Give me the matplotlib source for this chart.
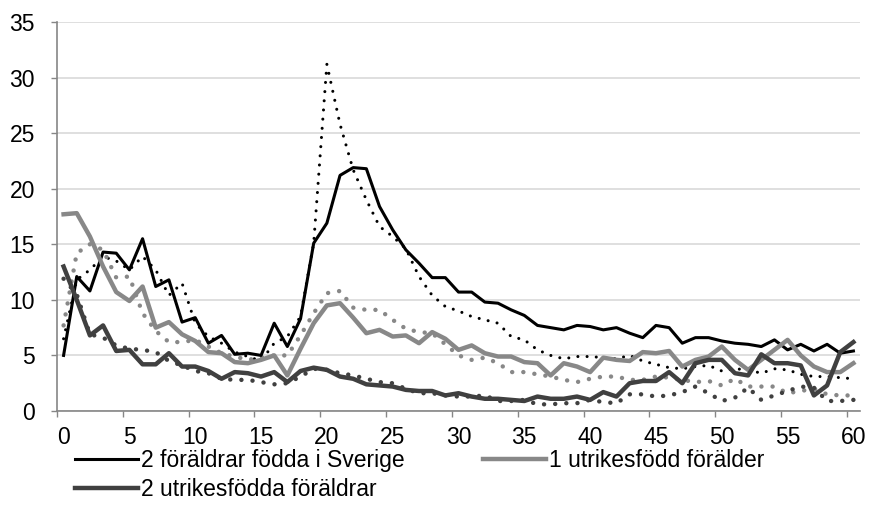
import numpy as np
import matplotlib.pyplot as plt

plt.rcParams['font.family'] = ['Liberation Sans', 'DejaVu Sans']

# age 0..60, one value per category
ages = np.arange(61)

# solid lines
sverige = [5.0, 12.1, 10.8, 14.3, 14.2, 12.7, 15.5, 11.2, 11.8, 8.0,
           8.4, 6.1, 6.8, 5.1, 5.2, 5.0, 7.9, 5.8, 8.3, 15.1,
           16.9, 21.2, 21.9, 21.8, 18.4, 16.3, 14.5, 13.3, 12.0, 12.0,
           10.7, 10.7, 9.8, 9.7, 9.1, 8.6, 7.7, 7.5, 7.3, 7.7,
           7.6, 7.3, 7.5, 7.0, 6.6, 7.7, 7.5, 6.1, 6.6, 6.6,
           6.3, 6.1, 6.0, 5.8, 6.4, 5.5, 6.0, 5.4, 6.0, 5.2, 5.4]
en_utr = [17.7, 17.8, 15.7, 13.0, 10.7, 9.9, 11.2, 7.5, 8.0, 6.9,
          6.3, 5.3, 5.2, 4.4, 4.3, 4.6, 5.0, 3.2, 5.6, 7.9,
          9.5, 9.7, 8.4, 7.0, 7.3, 6.7, 6.8, 6.1, 7.1, 6.5,
          5.5, 5.9, 5.2, 4.9, 4.9, 4.4, 4.3, 3.2, 4.3, 4.0,
          3.5, 4.8, 4.6, 4.5, 5.3, 5.2, 5.4, 4.0, 4.6, 4.9,
          5.8, 4.6, 3.7, 4.6, 5.5, 6.4, 5.0, 4.0, 3.5, 3.5, 4.3]
tva_utr = [13.0, 10.0, 6.8, 7.7, 5.4, 5.5, 4.2, 4.2, 5.2, 4.0,
           4.0, 3.6, 2.9, 3.5, 3.4, 3.1, 3.5, 2.6, 3.6, 3.9,
           3.7, 3.1, 2.9, 2.4, 2.3, 2.2, 1.9, 1.8, 1.8, 1.4,
           1.6, 1.3, 1.1, 1.1, 1.0, 0.9, 1.3, 1.1, 1.1, 1.3,
           1.0, 1.7, 1.3, 2.5, 2.7, 2.7, 3.5, 2.5, 4.3, 4.6,
           4.6, 3.4, 3.2, 5.1, 4.3, 4.3, 4.1, 1.4, 2.3, 5.3, 6.2]

# dotted lines
sverige_d = [6.5, 11.8, 12.7, 13.9, 13.5, 12.7, 13.9, 12.7, 10.4, 11.5,
             7.9, 6.7, 6.1, 5.3, 4.9, 4.5, 6.1, 6.7, 8.5, 15.1,
             31.2, 25.8, 21.7, 19.0, 16.6, 15.7, 14.6, 12.1, 10.4, 9.4,
             9.0, 8.5, 8.2, 7.9, 6.7, 6.4, 5.5, 5.0, 4.7, 4.9,
             4.9, 4.8, 4.7, 5.0, 4.5, 4.2, 3.9, 3.8, 4.0, 4.1,
             3.6, 3.8, 3.7, 3.4, 3.8, 3.7, 3.3, 3.1, 3.1, 3.0, 2.9]
en_utr_d = [7.7, 14.2, 15.0, 14.5, 12.0, 12.1, 8.8, 7.2, 6.2, 6.2,
            6.4, 5.8, 5.2, 4.9, 4.6, 4.8, 5.0, 5.0, 6.8, 8.8,
            10.6, 10.8, 9.3, 9.1, 9.1, 8.2, 7.4, 7.1, 7.0, 6.0,
            5.0, 4.6, 4.8, 4.3, 3.5, 3.5, 3.3, 3.1, 2.8, 2.6,
            2.9, 3.1, 3.1, 2.8, 2.8, 3.1, 3.0, 2.8, 2.6, 2.7,
            2.3, 2.9, 2.2, 2.2, 2.2, 1.6, 1.8, 2.0, 1.5, 1.4, 1.4]
tva_utr_d = [11.9, 10.5, 6.9, 6.6, 5.9, 5.6, 5.5, 5.3, 4.5, 4.1,
             3.6, 3.4, 2.9, 2.8, 2.8, 2.6, 2.4, 2.5, 3.1, 3.8,
             3.7, 3.4, 3.2, 2.9, 2.6, 2.5, 2.0, 1.6, 1.6, 1.4,
             1.3, 1.3, 1.4, 0.9, 0.9, 1.0, 0.6, 0.6, 0.7, 0.7,
             1.0, 0.8, 0.7, 1.5, 1.5, 1.3, 1.4, 1.7, 2.2, 1.6,
             0.9, 1.2, 2.1, 1.0, 1.4, 1.8, 2.2, 2.1, 0.9, 0.9, 1.0]

labels = ['2 föräldrar födda i Sverige', '1 utrikesfödd förälder',
          '2 utrikesfödda föräldrar']

black = '#000000'
grey = '#888888'
dark = '#404040'
fs = 16.5

fig = plt.figure(figsize=(8.81, 5.21), dpi=100)
ax = fig.add_axes([57 / 881, 1 - 411 / 521, (860 - 57) / 881, (411 - 22) / 521])

x = ages + 0.5

# dotted series
ax.plot(x, sverige_d, color=black, lw=2.2, linestyle=(0, (0.01, 3.0)),
        dash_capstyle='round', zorder=3)
ax.plot(x, en_utr_d, color=grey, lw=3.2, linestyle=(0, (0.01, 2.5)),
        dash_capstyle='round', zorder=3)
ax.plot(x, tva_utr_d, color=dark, lw=3.2, linestyle=(0, (0.01, 2.5)),
        dash_capstyle='round', zorder=3)

# solid series
l1, = ax.plot(x, sverige, color=black, lw=2.2, zorder=4)
l2, = ax.plot(x, en_utr, color=grey, lw=3.2, zorder=4)
l3, = ax.plot(x, tva_utr, color=dark, lw=3.2, zorder=4)

ax.set_xlim(0, 61)
ax.set_ylim(0, 35)

ax.set_yticks(np.arange(0, 36, 5))
ax.tick_params(axis='y', length=4, width=1, color='#868686', pad=12,
               labelsize=fs)
ax.grid(axis='y', color='#d9d9d9', lw=1.2)
ax.set_axisbelow(True)

# ticks on category edges, labels in the middle of each category
ax.set_xticks(np.arange(0, 61, 5))
ax.set_xticklabels([])
ax.set_xticks(np.arange(0, 61, 5) + 0.5, minor=True)
ax.set_xticklabels([str(a) for a in range(0, 61, 5)], minor=True)
ax.tick_params(axis='x', which='major', length=4, width=1, color='#868686')
ax.tick_params(axis='x', which='minor', length=0, pad=11, labelsize=fs)

for s in ['top', 'right']:
    ax.spines[s].set_visible(False)
for s in ['left', 'bottom']:
    ax.spines[s].set_color('#868686')
    ax.spines[s].set_linewidth(1.2)

fig.legend([l1, l3, l2], [labels[0], labels[2], labels[1]], ncol=2,
           loc='upper left', bbox_to_anchor=(75 / 881, 1 - 449 / 521),
           frameon=False, fontsize=fs, handlelength=2.75, handletextpad=0.12,
           columnspacing=3.45, labelspacing=0.28, borderpad=0, borderaxespad=0)

fig.savefig('out.png', dpi=100)
